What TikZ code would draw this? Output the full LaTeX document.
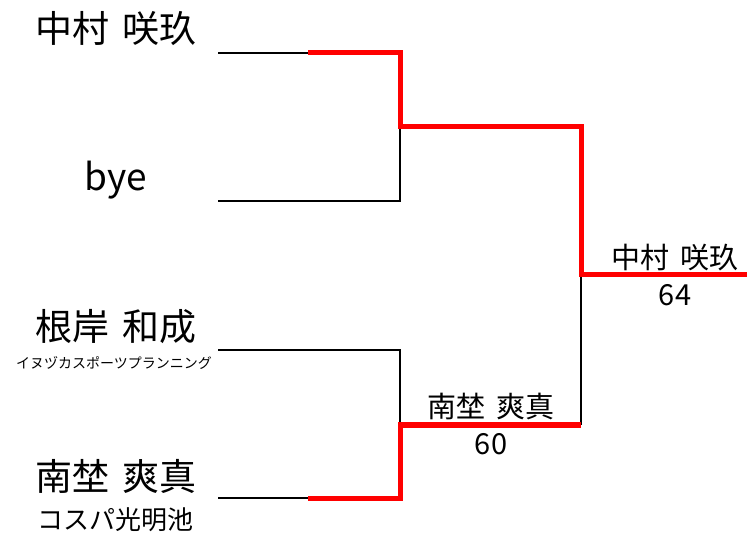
\documentclass[tikz,border=0pt]{standalone}
\usepackage{fontspec}
\setmainfont[WordSpace=1.6]{Noto Sans CJK JP}

\begin{document}
\begin{tikzpicture}[x=1pt, y=-1pt, line join=miter,
    lose/.style={draw=black, line width=2.2pt},
    win/.style={draw=red, line width=5pt},
    player/.style={inner sep=0pt, font=\fontsize{37}{42}\selectfont},
    team/.style={inner sep=0pt},
    winner/.style={inner sep=0pt, font=\fontsize{29}{34}\selectfont},
    score/.style={inner sep=0pt, font=\fontsize{29}{34}\selectfont}]
    \useasboundingbox (0,0) rectangle (747,534);

    % bracket points
    \foreach \name/\y in {e1/53,e2/201,e3/350,e4/498}
    {
        \coordinate (\name) at (218,\y);
        \coordinate (\name m) at (308,\y);
        \coordinate (\name r) at (400,\y);
    }
    \coordinate (s1) at (400,127);
    \coordinate (s1r) at (581,127);
    \coordinate (s2) at (400,425);
    \coordinate (s2r) at (581,425);
    \coordinate (f) at (581,275);
    \coordinate (fr) at (747,275);

    % lost paths
    \draw[lose] (e1)--(e1m);
    \draw[lose] (e2)--(e2r)--(s1);
    \draw[lose] (e3)--(e3r)--(s2);
    \draw[lose] (e4)--(e4m);
    \draw[lose] (s2r)--(f);

    % winning paths
    \draw[win] (e1m)--(e1r)--(s1)--(s1r)--(f)--(fr);
    \draw[win] (e4m)--(e4r)--(s2)--(s2r);

    % players
    \node (n1) at (116,29)[player]{中村 咲玖};
    \node (n2) at (116,180)[player]{bye};
    \node (n3) at (116,327)[player]{根岸 和成};
    \node (n4) at (116,476)[player]{南埜 爽真};
    \node (t3) at (114,363)[team, font=\fontsize{14}{16}\selectfont]{イヌヅカスポーツプランニング};
    \node (t4) at (115,520)[team, font=\fontsize{26}{30}\selectfont]{コスパ光明池};

    % results
    \node (w2) at (491,406)[winner]{南埜 爽真};
    \node (p2) at (491,444)[score]{60};
    \node (w1) at (675,258)[winner]{中村 咲玖};
    \node (p1) at (675,295)[score]{64};

\end{tikzpicture}
\end{document}
